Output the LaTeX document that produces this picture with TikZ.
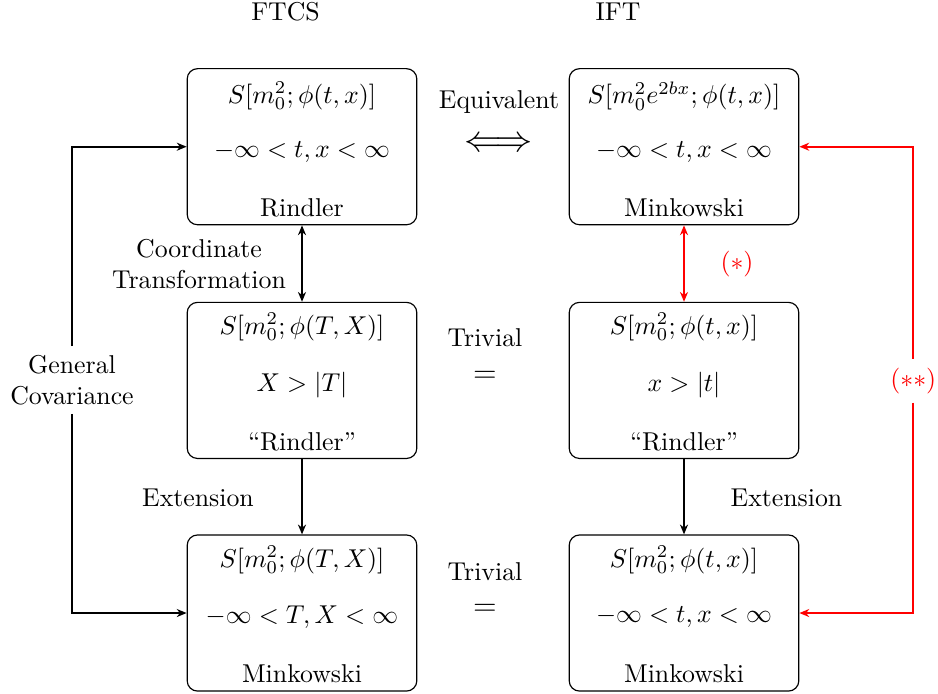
\documentclass[tikz,border=0pt]{standalone}
\usetikzlibrary{arrows.meta}
\begin{document}
\begin{tikzpicture}[x=0.3876pt,y=-0.3876pt,
  box/.style={draw, rounded corners=4pt, minimum width=89pt, minimum height=60.5pt, inner sep=0pt, line width=0.45pt},
  tip/.style={Stealth[length=3.8pt,width=3.1pt,inset=1.2pt]},
  conn/.style={line width=0.8pt, -{Stealth[length=3.8pt,width=3.1pt,inset=1.2pt]}},
  biconn/.style={line width=0.8pt, {Stealth[length=3.8pt,width=3.1pt,inset=1.2pt]}-{Stealth[length=3.8pt,width=3.1pt,inset=1.2pt]}},
  lbl/.style={align=center}]
\useasboundingbox (0,0) rectangle (938,693);

% headings
\node (h1) at (285.5,12) {FTCS};
\node (h2) at (618,12) {IFT};

% boxes
\node[box] (a1) at (302,146.7) {};
\node[box] (a2) at (302,380.4) {};
\node[box] (a3) at (302,613) {};
\node[box] (b1) at (684,146.7) {};
\node[box] (b2) at (684,380.4) {};
\node[box] (b3) at (684,613) {};

% box texts
\node (a1x) at (302,96) {$S[m_0^2;\phi(t,x)]$};
\node (a1y) at (302,152) {$-\infty<t,x<\infty$};
\node (a1z) at (302,208) {Rindler};
\node (a2x) at (302,327) {$S[m_0^2;\phi(T,X)]$};
\node (a2y) at (302,385) {$X>|T|$};
\node (a2z) at (302,441.5) {``Rindler''};
\node (a3x) at (302,560) {$S[m_0^2;\phi(T,X)]$};
\node (a3y) at (302,617) {$-\infty<T,X<\infty$};
\node (a3z) at (302,673.5) {Minkowski};

\node (b1x) at (684,96) {$S[m_0^2e^{2bx};\phi(t,x)]$};
\node (b1y) at (684,152) {$-\infty<t,x<\infty$};
\node (b1z) at (684,208) {Minkowski};
\node (b2x) at (684,327) {$S[m_0^2;\phi(t,x)]$};
\node (b2y) at (684,385) {$x>|t|$};
\node (b2z) at (684,441.5) {``Rindler''};
\node (b3x) at (684,560) {$S[m_0^2;\phi(t,x)]$};
\node (b3y) at (684,617) {$-\infty<t,x<\infty$};
\node (b3z) at (684,673.5) {Minkowski};

% middle labels
\node (eq) at (499,101.7) {Equivalent};
\node (iff) at (499,145) {\Large$\Longleftrightarrow$};
\node (tr1) at (485,338) {Trivial};
\node (eq1) at (485,377) {\large$=$};
\node (tr2) at (485,572) {Trivial};
\node (eq2) at (485,610) {\large$=$};

% side labels
\node[lbl] (ct) at (199,264) {Coordinate\\Transformation};
\node (ext1) at (198,498) {Extension};
\node (ext2) at (786.5,497.7) {Extension};
\node[lbl] (gc) at (72,380) {General\\Covariance};
\node[red] (st) at (737,264) {$(*)$};
\node[red] (sst) at (913.3,380.7) {$(**)$};

% connectors
\draw[biconn] (a1.south) -- (a2.north);
\draw[conn] (a2.south) -- (a3.north);
\draw[biconn, red] (b1.south) -- (b2.north);
\draw[conn] (b2.south) -- (b3.north);
\draw[conn] (gc.north) |- (a1.west);
\draw[conn] (gc.south) |- (a3.west);
\draw[conn, red] (sst.north) |- (b1.east);
\draw[conn, red] (sst.south) |- (b3.east);
\end{tikzpicture}
\end{document}
